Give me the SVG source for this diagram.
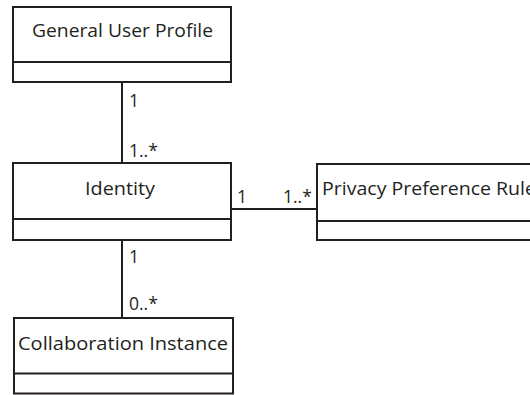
<svg xmlns="http://www.w3.org/2000/svg" width="530" height="395" viewBox="0 0 530 395">
<style>
.box{fill:#fff;stroke:#231f20;stroke-width:2}
.div{stroke:#231f20;stroke-width:2}
.conn{stroke:#231f20;stroke-width:2;fill:none}
text{font-family:"Open Sans","Liberation Sans",sans-serif;font-size:17.5px;fill:#231f20}
</style>
<rect width="530" height="395" fill="#fff"/>
<g id="connectors">
<line class="conn" x1="122" y1="82" x2="122" y2="163"/>
<line class="conn" x1="231" y1="209" x2="317" y2="209"/>
<line class="conn" x1="122" y1="240" x2="122" y2="318"/>
<text x="129" y="107">1</text>
<text x="129" y="157">1..*</text>
<text x="237" y="203">1</text>
<text x="283" y="203">1..*</text>
<text x="129" y="263">1</text>
<text x="129" y="310">0..*</text>
</g>
<g id="general-user-profile">
<rect class="box" x="13" y="7" width="218" height="75"/>
<line class="div" x1="13" y1="62" x2="231" y2="62"/>
<text x="32" y="37" textLength="181" lengthAdjust="spacingAndGlyphs">General User Profile</text>
</g>
<g id="identity">
<rect class="box" x="13" y="163" width="218" height="77"/>
<line class="div" x1="13" y1="219" x2="231" y2="219"/>
<text x="85" y="195" textLength="70" lengthAdjust="spacingAndGlyphs">Identity</text>
</g>
<g id="privacy-preference-rule">
<rect class="box" x="317" y="164" width="240" height="76"/>
<line class="div" x1="317" y1="221" x2="557" y2="221"/>
<text x="322" y="195" textLength="214" lengthAdjust="spacingAndGlyphs">Privacy Preference Rule</text>
</g>
<g id="collaboration-instance">
<rect class="box" x="14" y="318" width="219" height="75.5"/>
<line class="div" x1="14" y1="373.5" x2="233" y2="373.5"/>
<text x="18" y="350" textLength="210" lengthAdjust="spacingAndGlyphs">Collaboration Instance</text>
</g>
</svg>
